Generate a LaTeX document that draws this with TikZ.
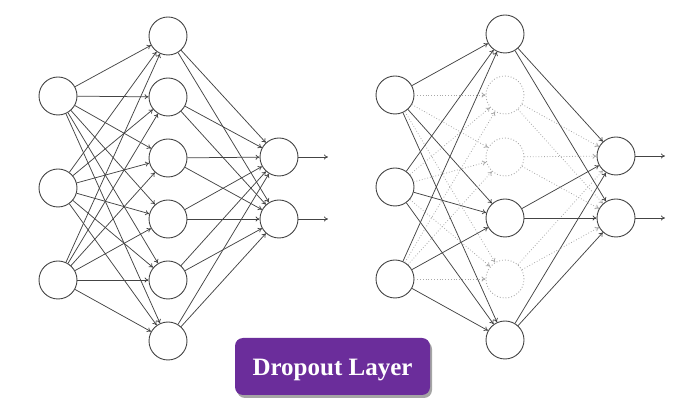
\documentclass[tikz,border=0pt]{standalone}
\usepackage{fontspec}
\setmainfont{Liberation Serif}
\usetikzlibrary{arrows.meta,shadows}
\definecolor{edgec}{HTML}{444444}
\definecolor{dropc}{HTML}{A8A8A8}
\definecolor{btn}{HTML}{6B2D9B}
\begin{document}
\begin{tikzpicture}[x=1pt,y=-1pt,
  neuron/.style={circle,draw=edgec,line width=0.9pt,minimum size=38pt,inner sep=0pt,fill=white},
  dropneuron/.style={circle,draw=dropc,dotted,line width=0.9pt,minimum size=38pt,inner sep=0pt},
  conn/.style={draw=edgec,line width=0.75pt,-{To[length=4pt,width=5pt]}},
  dropconn/.style={draw=dropc,dotted,line width=0.8pt,-{To[length=4pt,width=5pt]}},
  button/.style={rounded corners=8pt,fill=btn,drop shadow={shadow xshift=2pt,shadow yshift=-3pt,fill=black!70,opacity=0.5}}]
\useasboundingbox (0,0) rectangle (697,411);
% ---------- left network ----------
\foreach \i/\y in {1/96,2/188,3/280} \node[neuron] (LI\i) at (58,\y) {};
\foreach \j/\y in {1/36,2/97,3/158,4/219,5/280,6/341} \node[neuron] (LH\j) at (168,\y) {};
\foreach \k/\y in {1/157,2/219} \node[neuron] (LO\k) at (279,\y) {};
\foreach \i in {1,2,3} \foreach \j in {1,...,6} \draw[conn] (LI\i) -- (LH\j);
\foreach \j in {1,...,6} \foreach \k in {1,2} \draw[conn] (LH\j) -- (LO\k);
\coordinate (LE1) at (328,157);
\coordinate (LE2) at (328,219);
\draw[conn] (LO1) -- (LE1);
\draw[conn] (LO2) -- (LE2);
% ---------- right network ----------
\foreach \i/\y in {1/95,2/187,3/279} \node[neuron] (RI\i) at (395,\y) {};
\foreach \j/\y in {1/34,4/218,6/340} \node[neuron] (RH\j) at (505,\y) {};
\foreach \j/\y in {2/95,3/157,5/279} \node[dropneuron] (RH\j) at (505,\y) {};
\foreach \k/\y in {1/156,2/218} \node[neuron] (RO\k) at (616,\y) {};
\foreach \i in {1,2,3} {
  \foreach \j in {2,3,5} \draw[dropconn] (RI\i) -- (RH\j);
  \foreach \j in {1,4,6} \draw[conn] (RI\i) -- (RH\j);
}
\foreach \k in {1,2} {
  \foreach \j in {2,3,5} \draw[dropconn] (RH\j) -- (RO\k);
  \foreach \j in {1,4,6} \draw[conn] (RH\j) -- (RO\k);
}
\coordinate (RE1) at (665,156);
\coordinate (RE2) at (665,218);
\draw[conn] (RO1) -- (RE1);
\draw[conn] (RO2) -- (RE2);
% ---------- label ----------
\node[button,minimum width=195pt,minimum height=57pt,inner sep=0pt,text=white,text depth=0pt,font=\bfseries\fontsize{25}{28}\selectfont] (lbl) at (332.5,366.5) {\raisebox{-1.5pt}{Dropout Layer}};
\end{tikzpicture}
\end{document}
